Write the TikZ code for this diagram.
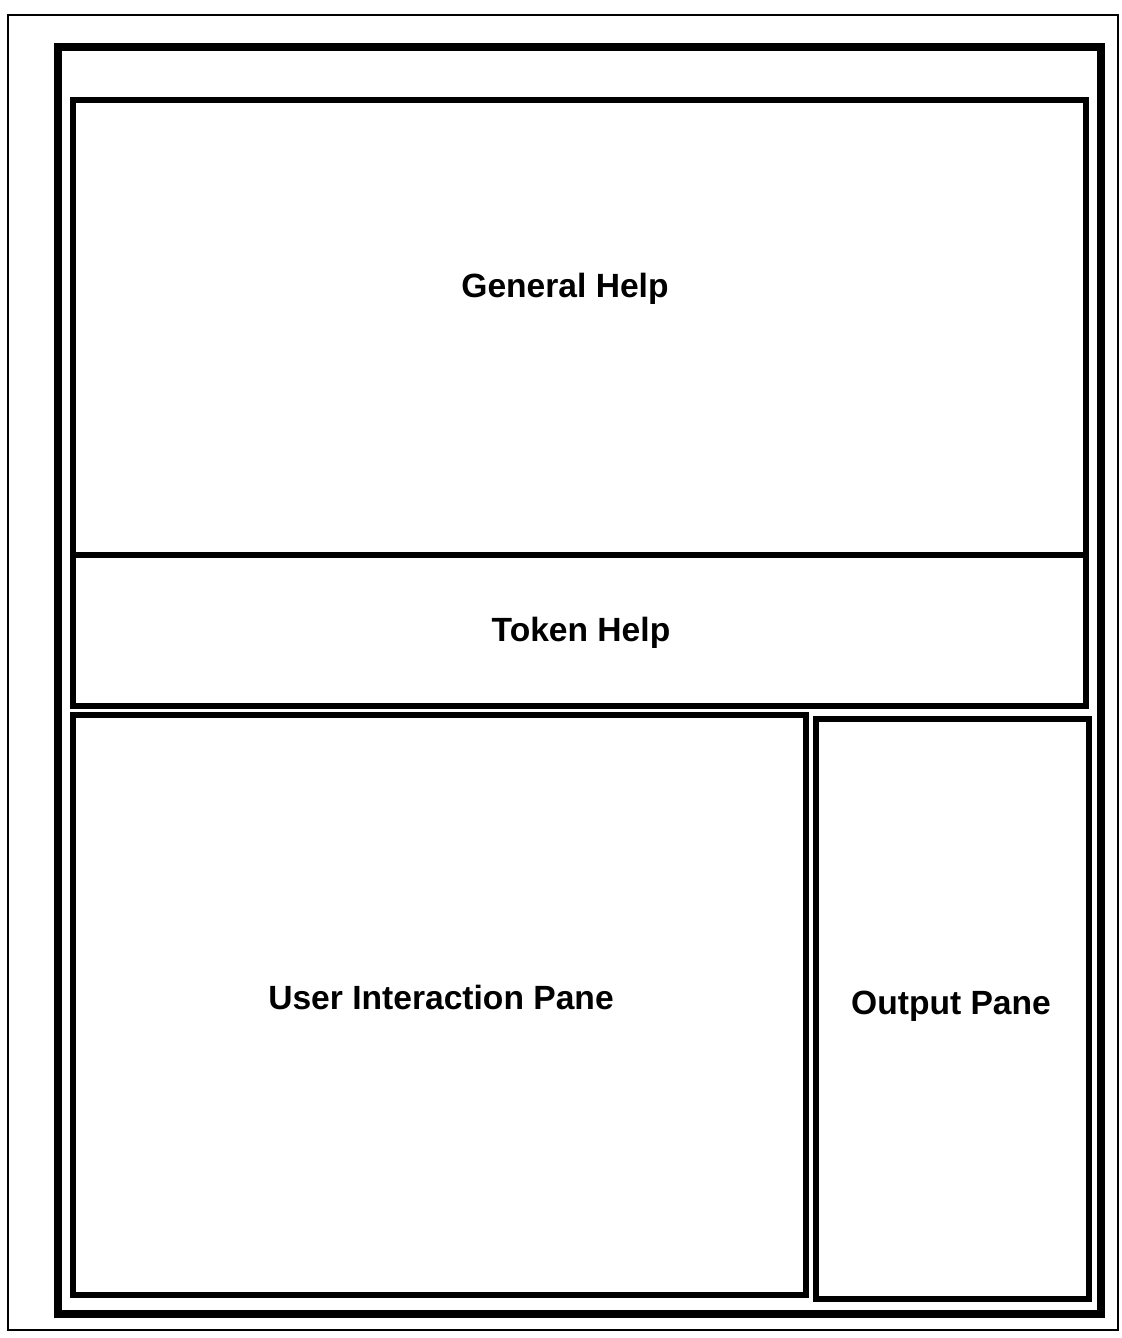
\documentclass[tikz,border=0pt]{standalone}
\usepackage{fontspec}
\setmainfont{Liberation Sans}
\begin{document}
\begin{tikzpicture}[x=0.5pt,y=-0.5pt,
  outerline/.style={line width=1.2pt},
  framebox/.style={line width=4pt},
  panebox/.style={line width=3pt},
  lbl/.style={font=\fontsize{16.8}{20}\selectfont\bfseries, anchor=base, inner sep=0pt}]
\useasboundingbox (0,0) rectangle (1122,1338);
\draw[outerline] (8,15) rectangle (1118,1330);
\draw[framebox] (58,47) rectangle (1101,1314);
\draw[panebox] (73,100) rectangle (1086,706);
\draw[panebox] (73,555) -- (1086,555);
\draw[panebox] (73,715) rectangle (806,1295);
\draw[panebox] (816,719) rectangle (1089,1299);
\node[lbl] (gh) at (565,297) {General Help};
\node[lbl] (th) at (581,641) {Token Help};
\node[lbl] (uip) at (441,1009) {User Interaction Pane};
\node[lbl] (op) at (951,1014) {Output Pane};
\end{tikzpicture}
\end{document}
